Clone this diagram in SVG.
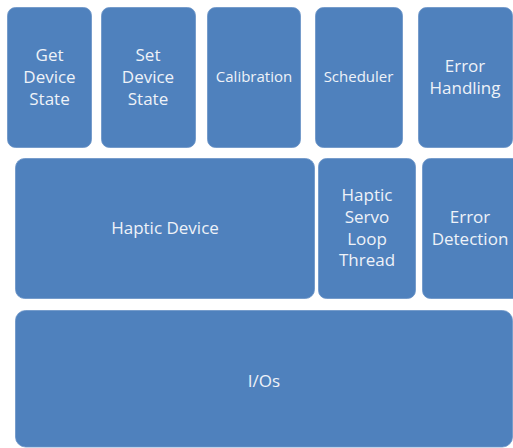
<svg xmlns="http://www.w3.org/2000/svg" width="513" height="448" viewBox="0 0 513 448">
  <style>
    .box { fill: #4f81bd; stroke: #6a93c6; stroke-width: 0.8; }
    .lbl { fill: #eef2f8; font-family: "Open Sans", "Liberation Sans", sans-serif; font-size: 17px; text-anchor: middle; dominant-baseline: central; }
    .sm { font-size: 15px; }
  </style>
  <rect width="513" height="448" fill="#ffffff"/>

  <!-- top row: services -->
  <g id="get-device-state">
    <rect class="box" x="7.5" y="7.5" width="84" height="140" rx="8"/>
    <text class="lbl" x="49.5" y="54">Get</text>
    <text class="lbl" x="49.5" y="76">Device</text>
    <text class="lbl" x="49.5" y="98">State</text>
  </g>
  <g id="set-device-state">
    <rect class="box" x="101.5" y="7.5" width="94" height="140" rx="8"/>
    <text class="lbl" x="148" y="54">Set</text>
    <text class="lbl" x="148" y="76">Device</text>
    <text class="lbl" x="148" y="98">State</text>
  </g>
  <g id="calibration">
    <rect class="box" x="207.5" y="7.5" width="93" height="140" rx="8"/>
    <text class="lbl sm" x="254" y="76">Calibration</text>
  </g>
  <g id="scheduler">
    <rect class="box" x="315.5" y="7.5" width="87" height="140" rx="8"/>
    <text class="lbl sm" x="358.5" y="76">Scheduler</text>
  </g>
  <g id="error-handling">
    <rect class="box" x="418.5" y="7.5" width="94" height="140" rx="8"/>
    <text class="lbl" x="465" y="65">Error</text>
    <text class="lbl" x="465" y="87">Handling</text>
  </g>

  <!-- middle row: device layer -->
  <g id="haptic-device">
    <rect class="box" x="15.5" y="158.5" width="299" height="140" rx="9"/>
    <text class="lbl" x="165" y="227">Haptic Device</text>
  </g>
  <g id="haptic-servo-loop-thread">
    <rect class="box" x="318.5" y="158.5" width="97" height="140" rx="8"/>
    <text class="lbl" x="367" y="194">Haptic</text>
    <text class="lbl" x="367" y="216">Servo</text>
    <text class="lbl" x="367" y="238">Loop</text>
    <text class="lbl" x="367" y="259">Thread</text>
  </g>
  <g id="error-detection">
    <rect class="box" x="422.5" y="158.5" width="100" height="140" rx="8"/>
    <text class="lbl" x="470" y="216">Error</text>
    <text class="lbl" x="470" y="238">Detection</text>
  </g>

  <!-- bottom row: hardware I/O -->
  <g id="ios">
    <rect class="box" x="15.5" y="310.5" width="497" height="136.5" rx="10"/>
    <text class="lbl" x="264" y="380">I/Os</text>
  </g>

  <g id="connectors"/>
</svg>
